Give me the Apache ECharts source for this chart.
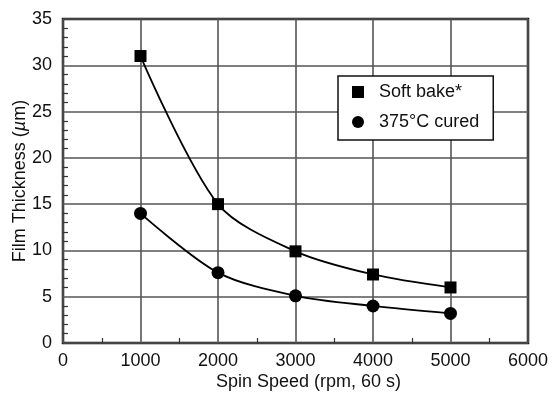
<!DOCTYPE html>
<html>
<head>
<meta charset="utf-8">
<script src="https://cdn.jsdelivr.net/npm/echarts@6/dist/echarts.min.js"></script>
<style>
  html, body { margin: 0; padding: 0; background: #fff; }
  #chart { width: 553px; height: 394px; }
</style>
</head>
<body>
<div id="chart"></div>
<script>
// Spin speed (rpm) and film thickness (µm) for the two process states
const spinSpeeds = [1000, 2000, 3000, 4000, 5000];
const softBake = [31.0, 15.0, 9.9, 7.4, 6.0];
const cured375 = [14.0, 7.6, 5.1, 4.0, 3.2];
const seriesNames = ['Soft bake*', '375°C cured'];

const FONT = '"Liberation Sans", Arial, sans-serif';
const FS = 18;

const chart = echarts.init(document.getElementById('chart'));

function pairs(xs, ys) {
  return xs.map((x, i) => [x, ys[i]]);
}

chart.setOption({
  animation: false,
  backgroundColor: '#fff',
  grid: {
    left: 63, right: 25, top: 19, bottom: 51,
    containLabel: false, outerBoundsMode: 'none',
    show: true, borderColor: '#111', borderWidth: 2.5
  },
  legend: {
    left: 338, top: 76,
    orient: 'vertical',
    itemGap: 12,
    itemWidth: 12, itemHeight: 12,
    padding: [7, 14, 9, 14],
    backgroundColor: '#fff',
    borderColor: '#111', borderWidth: 1.5,
    textStyle: { fontFamily: FONT, fontSize: FS, color: '#111', padding: [0, 0, 0, 10] },
    data: [
      { name: seriesNames[0], icon: 'rect' },
      { name: seriesNames[1], icon: 'circle' }
    ]
  },
  xAxis: {
    type: 'value', min: 0, max: 6000, interval: 1000,
    name: 'Spin Speed (rpm, 60 s)', nameLocation: 'middle', nameGap: 30,
    nameMoveOverlap: false,
    nameTextStyle: { fontFamily: FONT, fontSize: FS, color: '#111', padding: [0, 0, 0, 26] },
    axisLine: { show: false },
    axisTick: { show: false, inside: true },
    minorTick: { show: true, splitNumber: 2, length: 5, lineStyle: { color: '#333', width: 1.2 } },
    axisLabel: { fontFamily: FONT, fontSize: FS, color: '#111', margin: 9, formatter: v => String(v) },
    splitLine: { show: true, lineStyle: { color: '#555', width: 1.6 } }
  },
  yAxis: {
    type: 'value', min: 0, max: 35, interval: 5,
    name: '{a|Film Thickness (}{b|µ}{a|m)}', nameLocation: 'middle', nameGap: 34,
    nameMoveOverlap: false,
    nameTextStyle: {
      rich: {
        a: { fontFamily: FONT, fontSize: FS, color: '#111' },
        b: { fontFamily: FONT, fontSize: FS, color: '#111', fontStyle: 'italic' }
      }
    },
    axisLine: { show: false },
    axisTick: { show: false, inside: true },
    minorTick: { show: true, splitNumber: 5, length: 5, lineStyle: { color: '#333', width: 1.2 } },
    axisLabel: { fontFamily: FONT, fontSize: FS, color: '#111', margin: 11 },
    splitLine: { show: true, lineStyle: { color: '#555', width: 1.6 } }
  },
  series: [
    {
      name: seriesNames[0], type: 'line', smooth: 0.3,
      data: pairs(spinSpeeds, softBake),
      symbol: 'rect', symbolSize: 12,
      itemStyle: { color: '#000' },
      lineStyle: { color: '#000', width: 1.8 },
      z: 5
    },
    {
      name: seriesNames[1], type: 'line', smooth: 0.3,
      data: pairs(spinSpeeds, cured375),
      symbol: 'circle', symbolSize: 13,
      itemStyle: { color: '#000' },
      lineStyle: { color: '#000', width: 1.8 },
      z: 5
    }
  ]
});
</script>
</body>
</html>
